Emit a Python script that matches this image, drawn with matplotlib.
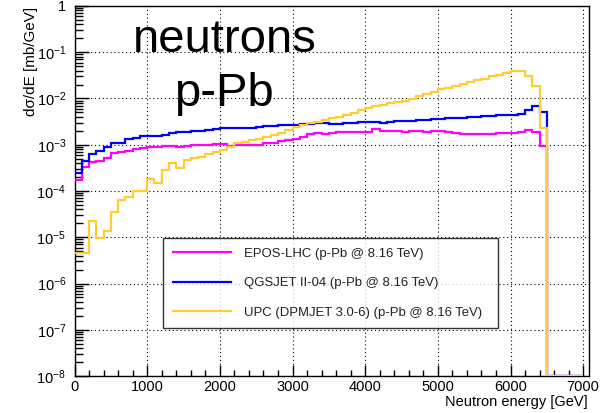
import numpy as np
import matplotlib
matplotlib.use("Agg")
import matplotlib.pyplot as plt
from matplotlib.ticker import LogLocator, FixedLocator, FuncFormatter, NullFormatter, MultipleLocator

plt.rcParams['font.family'] = ['Liberation Sans', 'DejaVu Sans']
plt.rcParams['mathtext.fontset'] = 'custom'
plt.rcParams['mathtext.rm'] = 'Liberation Sans'
plt.rcParams['mathtext.it'] = 'Liberation Sans:italic'
plt.rcParams['mathtext.default'] = 'regular'

# ---- data: 100 GeV bins from 0 to 7000 GeV ----
bin_edges = np.arange(0, 7001, 100)

epos_lhc = [
    1.7e-4, 3.25e-4, 4.15e-4, 4.35e-4, 5.3e-4, 6.5e-4, 7.0e-4, 7.3e-4, 8.0e-4, 8.4e-4,
    8.8e-4, 8.8e-4, 9.4e-4, 9.4e-4, 9.0e-4, 9.5e-4, 1.0e-3, 1.0e-3, 1.0e-3, 1.04e-3,
    1.04e-3, 9.5e-4, 1.0e-3, 1.0e-3, 9.8e-4, 1.0e-3, 1.08e-3, 1.08e-3, 1.18e-3, 1.27e-3,
    1.36e-3, 1.5e-3, 1.72e-3, 1.8e-3, 1.72e-3, 1.76e-3, 1.9e-3, 1.9e-3, 1.85e-3, 1.9e-3,
    1.9e-3, 2.15e-3, 2.0e-3, 2.0e-3, 1.95e-3, 1.9e-3, 1.95e-3, 1.95e-3, 1.9e-3, 1.95e-3,
    1.95e-3, 1.9e-3, 1.8e-3, 1.72e-3, 1.72e-3, 1.68e-3, 1.68e-3, 1.68e-3, 1.8e-3, 1.8e-3,
    1.8e-3, 1.85e-3, 2.08e-3, 1.85e-3, 9.4e-4,
    0, 0, 0, 0, 0]

qgsjet = [
    2.5e-4, 4.35e-4, 6.2e-4, 7.3e-4, 9.0e-4, 1.1e-3, 1.1e-3, 1.3e-3, 1.37e-3, 1.57e-3,
    1.57e-3, 1.57e-3, 1.65e-3, 1.76e-3, 1.85e-3, 1.85e-3, 1.95e-3, 1.95e-3, 2.08e-3, 2.17e-3,
    2.25e-3, 2.25e-3, 2.3e-3, 2.3e-3, 2.35e-3, 2.4e-3, 2.5e-3, 2.57e-3, 2.62e-3, 2.62e-3,
    2.67e-3, 2.75e-3, 2.8e-3, 2.9e-3, 3.0e-3, 2.8e-3, 2.8e-3, 3.0e-3, 3.0e-3, 3.03e-3,
    3.03e-3, 3.08e-3, 3.0e-3, 3.17e-3, 3.25e-3, 3.25e-3, 3.3e-3, 3.35e-3, 3.5e-3, 3.6e-3,
    3.6e-3, 3.7e-3, 3.75e-3, 3.8e-3, 3.9e-3, 4.0e-3, 4.1e-3, 4.2e-3, 4.35e-3, 4.45e-3,
    4.5e-3, 4.7e-3, 5.6e-3, 6.8e-3, 5.0e-3,
    0, 0, 0, 0, 0]

upc_dpmjet = [
    4.6e-6, 4.6e-6, 2.3e-5, 9.5e-6, 1.35e-5, 3.6e-5, 6.4e-5, 7.5e-5, 1.0e-4, 1.0e-4,
    1.8e-4, 1.46e-4, 2.9e-4, 4.0e-4, 3.1e-4, 4.6e-4, 5.3e-4, 5.5e-4, 6.4e-4, 7.1e-4,
    7.7e-4, 9.0e-4, 1.08e-3, 1.13e-3, 1.26e-3, 1.35e-3, 1.5e-3, 1.62e-3, 1.8e-3, 2.07e-3,
    2.45e-3, 2.65e-3, 2.9e-3, 3.05e-3, 3.4e-3, 3.7e-3, 4.05e-3, 4.4e-3, 4.95e-3, 5.6e-3,
    6.3e-3, 6.8e-3, 7.2e-3, 7.8e-3, 8.5e-3, 9.0e-3, 9.9e-3, 1.12e-2, 1.26e-2, 1.4e-2,
    1.58e-2, 1.7e-2, 1.9e-2, 2.07e-2, 2.25e-2, 2.5e-2, 2.7e-2, 3.0e-2, 3.25e-2, 3.6e-2,
    4.0e-2, 3.9e-2, 3.0e-2, 1.85e-2, 2.35e-3,
    0, 0, 0, 0, 0]

labels = ["EPOS-LHC (p-Pb @ 8.16 TeV)",
          "QGSJET II-04 (p-Pb @ 8.16 TeV)",
          "UPC (DPMJET 3.0-6) (p-Pb @ 8.16 TeV)"]
colors = ["#ff00ff", "#0000ff", "#ffcc33"]
series = [epos_lhc, qgsjet, upc_dpmjet]

y_decades = [1e-8, 1e-7, 1e-6, 1e-5, 1e-4, 1e-3, 1e-2, 1e-1, 1.0]
x_ticks = [0, 1000, 2000, 3000, 4000, 5000, 6000, 7000]

YMIN, YMAX = 1e-8, 1.0
XMIN, XMAX = 0, 7080

W, H = 606, 413
fig = plt.figure(figsize=(W / 100, H / 100), dpi=100)
ax = fig.add_axes([74.5 / W, 1 - 376 / H, (589 - 74.5) / W, (376 - 6) / H])

for vals, col, lab in zip(series, colors, labels):
    v = np.clip(np.asarray(vals, dtype=float), YMIN, None)
    ax.stairs(v, bin_edges, baseline=None, color=col, lw=1.6, label=lab, zorder=3)

ax.set_yscale('log')
ax.set_xlim(XMIN, XMAX)
ax.set_ylim(YMIN, YMAX)

# ticks
ax.xaxis.set_major_locator(FixedLocator(x_ticks))
ax.xaxis.set_minor_locator(MultipleLocator(200))
ax.yaxis.set_major_locator(FixedLocator(y_decades))
ax.yaxis.set_minor_locator(LogLocator(base=10, subs=np.arange(2, 10), numticks=20))
ax.yaxis.set_minor_formatter(NullFormatter())
ax.xaxis.set_minor_formatter(NullFormatter())

def yfmt(v, pos):
    e = int(round(np.log10(v)))
    if e == 0:
        return "1"
    return r"$10^{%d}$" % e
ax.yaxis.set_major_formatter(FuncFormatter(yfmt))

ax.tick_params(axis='both', which='both', direction='in', top=False, right=False, colors='black')
ax.tick_params(axis='x', which='major', length=8, width=1, pad=3, labelsize=10.5)
ax.tick_params(axis='x', which='minor', length=4.5, width=1)
ax.tick_params(axis='y', which='major', length=10, width=1, pad=6, labelsize=10.5)
ax.tick_params(axis='y', which='minor', length=6, width=1)

ax.grid(True, which='major', color='black', linestyle=(0, (1, 2.5)), linewidth=0.8)
for s in ax.spines.values():
    s.set_linewidth(1.0)
    s.set_color('black')

# legend
leg = ax.legend(handles=[plt.Line2D([], [], color=c, lw=1.6) for c in colors], labels=labels,
                loc='upper left',
                bbox_to_anchor=(163 / W, 1 - 321 / H, (498 - 163) / W, (321 - 238) / H),
                bbox_transform=fig.transFigure, borderaxespad=0, mode='expand',
                fontsize=9.45, frameon=True, fancybox=False, shadow=False,
                handlelength=4.4, handletextpad=1.0, labelspacing=1.3, borderpad=0.75)
leg.get_frame().set_edgecolor('black')
leg.get_frame().set_linewidth(1.0)
for t in leg.get_texts():
    t.set_color('#222222')

# big titles
fig.text(225 / W, 1 - 52 / H, "neutrons", fontsize=34, ha='center', va='baseline')
fig.text(223.5 / W, 1 - 106 / H, "p-Pb", fontsize=34, ha='center', va='baseline')

# axis titles
fig.text(31 / W, 1 - 7 / H, "dσ/dE [mb/GeV]", rotation=90, ha='center', va='top', fontsize=11)
fig.text(588 / W, 1 - 402 / H, "Neutron energy [GeV]", ha='right', va='center', fontsize=10.5)

fig.savefig("out.png", dpi=100)
